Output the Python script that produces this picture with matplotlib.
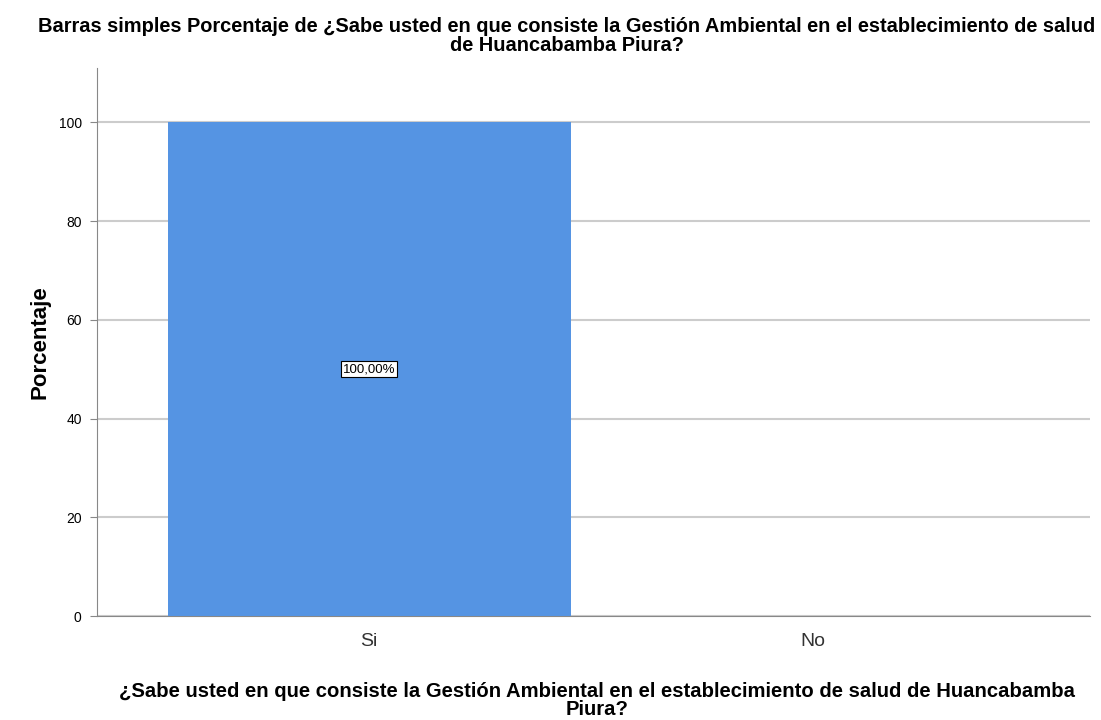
import matplotlib
matplotlib.use("Agg")
import matplotlib.pyplot as plt

categories = ["Si", "No"]
percentages = [100.0, 0.0]
bar_labels = ["100,00%", None]
y_ticks = [0, 20, 40, 60, 80, 100]

title = ("Barras simples Porcentaje de ¿Sabe usted en que consiste la Gestión Ambiental en el establecimiento de salud\n"
         "de Huancabamba Piura?")
xlabel = ("¿Sabe usted en que consiste la Gestión Ambiental en el establecimiento de salud de Huancabamba\n"
          "Piura?")

plt.rcParams["font.family"] = ["Liberation Sans", "DejaVu Sans"]

fig = plt.figure(figsize=(11.01, 7.20), dpi=100)
ax = fig.add_axes([0.0881, 0.1444, 0.9019, 0.7612])

x = list(range(len(categories)))
bars = ax.bar(x, percentages, width=0.908, color="#5594E3", zorder=3)

for b, lab in zip(bars, bar_labels):
    if lab:
        ax.text(b.get_x() + b.get_width() / 2, b.get_height() / 2, lab,
                ha="center", va="center", fontsize=9.5, zorder=4,
                bbox=dict(boxstyle="square,pad=0.15", fc="white", ec="black", lw=0.8))

ax.set_xlim(-0.613, 1.624)
ax.set_ylim(0, 111)
ax.set_yticks(y_ticks)
ax.set_xticks(x)
ax.set_xticklabels(categories, fontsize=14, color="#333333")
ax.tick_params(axis="y", labelsize=10, length=5, color="#888888", pad=6)
ax.tick_params(axis="x", length=0, pad=12)
ax.yaxis.grid(True, color="#cccccc", lw=1.5, zorder=0)

for s in ["top", "right"]:
    ax.spines[s].set_visible(False)
ax.spines["left"].set_color("#888888")
ax.spines["bottom"].set_color("#888888")

ax.set_ylabel("Porcentaje", fontsize=16, fontweight="bold", labelpad=6)
ax.set_xlabel(xlabel, fontsize=14.6, fontweight="bold", labelpad=23, linespacing=0.95)
ax.xaxis.label.set_x(0.504)
fig.text(0.515, 0.977, title, ha="center", va="top", fontsize=14.4,
         fontweight="bold", linespacing=1.05)

plt.savefig("out.png", dpi=100)
plt.close()
